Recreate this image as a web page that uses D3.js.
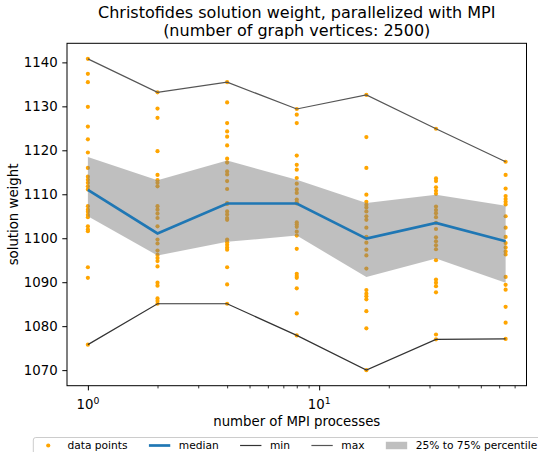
<!DOCTYPE html>
<html>
<head>
<meta charset="utf-8">
<title></title>
<style>
  body { margin: 0; background: #fff; }
  svg { display: block; font-family: "DejaVu Sans", sans-serif; }
</style>
</head>
<body>
<svg id="chart" width="538" height="452"></svg>
<script src="https://d3js.org/d3.v7.min.js"></script>
<script>
// number of MPI processes (x) and the solution weights seen for each run
const procs = [1, 2, 4, 8, 16, 32, 64];

const weights1 = [1140.8, 1137.4, 1135.5, 1129.9, 1125.4, 1122.5, 1119.5, 1116.0, 1114.0, 1113.3,
    1112.6, 1111.8, 1111.1, 1107.3, 1106.5, 1106.0, 1105.3, 1104.8, 1102.7, 1102.0, 1101.6,
    1093.4, 1091.0, 1075.8];
const weights2 = [1133.2, 1129.5, 1127.4, 1119.8, 1114.4, 1113.2, 1112.6, 1111.8, 1107.3, 1106.5,
    1105.6, 1104.6, 1102.7, 1099.7, 1098.8, 1097.2, 1096.2, 1095.5, 1094.8, 1093.6, 1089.9,
    1089.2, 1086.3, 1085.7, 1085.1];
const weights4 = [1135.5, 1130.9, 1126.2, 1124.3, 1123.1, 1121.1, 1118.1, 1117.2, 1115.2, 1114.5,
    1113.0, 1111.2, 1108.0, 1107.8, 1106.1, 1105.4, 1104.6, 1104.2, 1099.7, 1099.1, 1098.5,
    1097.9, 1097.4, 1093.4, 1089.5, 1085.1];
const weights8 = [1129.4, 1128.1, 1126.2, 1118.8, 1116.7, 1115.6, 1113.7, 1112.4, 1111.1, 1110.3,
    1108.8, 1108.2, 1107.9, 1103.6, 1103.1, 1102.6, 1101.5, 1100.6, 1097.6, 1091.9, 1091.4,
    1091.0, 1088.6, 1082.9, 1077.9];
const weights16 = [1132.6, 1123.0, 1116.0, 1109.9, 1108.3, 1107.6, 1107.0, 1106.1, 1105.0, 1104.2,
    1102.4, 1100.3, 1099.0, 1097.4, 1096.1, 1093.1, 1088.2, 1087.4, 1086.8, 1086.1, 1083.4,
    1079.5, 1070.0];
const weights32 = [1124.9, 1113.6, 1113.0, 1111.6, 1110.8, 1110.1, 1107.2, 1106.4, 1105.7, 1104.8,
    1103.5, 1102.1, 1100.2, 1099.3, 1098.4, 1097.5, 1095.0, 1090.6, 1089.9, 1089.1, 1087.7,
    1078.1, 1077.0];
const weights64 = [1117.4, 1114.4, 1111.3, 1109.6, 1108.9, 1108.3, 1107.7, 1105.0, 1102.4, 1100.3,
    1098.9, 1097.9, 1097.0, 1096.3, 1091.2, 1089.4, 1088.3, 1084.4, 1080.8, 1077.1];
const samples = [weights1, weights2, weights4, weights8, weights16, weights32, weights64];

// summary lines
const medianW = [1111.0, 1101.1, 1107.9, 1107.9, 1099.9, 1103.5, 1099.3];
const q25W = [1105.0, 1096.1, 1099.2, 1100.6, 1091.2, 1095.4, 1089.9];
const q75W = [1118.5, 1113.2, 1117.7, 1113.3, 1108.0, 1109.9, 1107.4];
const minW = [1075.8, 1085.1, 1085.1, 1077.9, 1070.0, 1077.0, 1077.1];
const maxW = [1140.8, 1133.2, 1135.5, 1129.4, 1132.6, 1124.9, 1117.4];

const yTicks = [1070, 1080, 1090, 1100, 1110, 1120, 1130, 1140];
const xMajor = [1, 10];
const xMinor = [2, 3, 4, 5, 6, 7, 8, 9, 20, 30, 40, 50, 60, 70];
const legendLabels = ["data points", "median", "min", "max", "25% to 75% percentile"];

const width = 538, height = 452;
const margin = {left: 67, right: 11.5, top: 43.3, bottom: 66.3};
const x0 = margin.left, x1 = width - margin.right;
const y0 = height - margin.bottom, y1 = margin.top;

// matplotlib style 5% margins (log space for x)
const lx = d3.extent(procs).map(Math.log10);
const mx = (lx[1] - lx[0]) * 0.05;
const x = d3.scaleLog()
    .domain([Math.pow(10, lx[0] - mx), Math.pow(10, lx[1] + mx)])
    .range([x0, x1]);
const lo = d3.min(minW), hi = d3.max(maxW);
const my = (hi - lo) * 0.05;
const y = d3.scaleLinear()
    .domain([lo - my, hi + my])
    .range([y0, y1]);

const svg = d3.select("#chart");
const g = svg.append("g");

// scatter of all runs
const dots = procs.flatMap((p, i) => samples[i].map(v => ({p: p, v: v})));
g.append("g")
    .selectAll("circle")
    .data(dots)
    .join("circle")
    .attr("cx", d => x(d.p))
    .attr("cy", d => y(d.v))
    .attr("r", 2.1)
    .attr("fill", "#ffa500");

// interquartile band, drawn over the points
const band = procs.map((p, i) => ({p: p, a: q25W[i], b: q75W[i]}));
g.append("path")
    .datum(band)
    .attr("fill", "gray")
    .attr("fill-opacity", 0.5)
    .attr("d", d3.area().x(d => x(d.p)).y0(d => y(d.a)).y1(d => y(d.b)));

const line = d3.line().x(d => x(d.p)).y(d => y(d.v));
const series = (vals) => procs.map((p, i) => ({p: p, v: vals[i]}));

g.append("path")
    .datum(series(medianW))
    .attr("fill", "none")
    .attr("stroke", "#1f77b4")
    .attr("stroke-width", 2.7)
    .attr("d", line);

g.append("path")
    .datum(series(minW))
    .attr("fill", "none")
    .attr("stroke", "#333")
    .attr("stroke-width", 1.2)
    .attr("d", line);

g.append("path")
    .datum(series(maxW))
    .attr("fill", "none")
    .attr("stroke", "#555")
    .attr("stroke-width", 1.2)
    .attr("d", line);

// axes
const yAxis = svg.append("g")
    .attr("transform", `translate(${x0},0)`)
    .call(d3.axisLeft(y).tickValues(yTicks).tickFormat(d3.format("d")).tickSize(4.7).tickPadding(4.7).tickSizeOuter(0));
yAxis.select(".domain").remove();
yAxis.selectAll("text").attr("font-size", "13.3px").attr("fill", "#000").attr("font-family", "DejaVu Sans");
yAxis.selectAll("line").attr("stroke", "#000").attr("stroke-width", 1);

const xAxis = svg.append("g")
    .attr("transform", `translate(0,${y0})`)
    .call(d3.axisBottom(x).tickValues(xMajor).tickFormat("").tickSize(4.7).tickSizeOuter(0));
xAxis.select(".domain").remove();
xAxis.selectAll("line").attr("stroke", "#000").attr("stroke-width", 1);

const xMinorAxis = svg.append("g")
    .attr("transform", `translate(0,${y0})`)
    .call(d3.axisBottom(x).tickValues(xMinor).tickFormat("").tickSize(2.7).tickSizeOuter(0));
xMinorAxis.select(".domain").remove();
xMinorAxis.selectAll("line").attr("stroke", "#000").attr("stroke-width", 0.8);

// 10^n labels
const xl = svg.append("g");
xMajor.forEach(v => {
    const t = xl.append("text")
        .attr("x", x(v))
        .attr("y", 409)
        .attr("text-anchor", "middle")
        .attr("font-size", "13.3px");
    t.append("tspan").text("10");
    t.append("tspan")
        .attr("font-size", "9.3px")
        .attr("dy", -5.5)
        .text(String(Math.round(Math.log10(v))));
});

// spines
svg.append("rect")
    .attr("x", x0).attr("y", y1)
    .attr("width", x1 - x0).attr("height", y0 - y1)
    .attr("fill", "none")
    .attr("stroke", "#000")
    .attr("stroke-width", 1);

// titles and labels
const cx = (x0 + x1) / 2;
svg.append("text")
    .attr("x", cx).attr("y", 17.5)
    .attr("text-anchor", "middle")
    .attr("font-size", "16px")
    .text("Christofides solution weight, parallelized with MPI");
svg.append("text")
    .attr("x", cx).attr("y", 36)
    .attr("text-anchor", "middle")
    .attr("font-size", "16px")
    .text("(number of graph vertices: 2500)");
svg.append("text")
    .attr("x", cx).attr("y", 426)
    .attr("text-anchor", "middle")
    .attr("font-size", "13.3px")
    .text("number of MPI processes");
svg.append("text")
    .attr("transform", `translate(18,${(y0 + y1) / 2}) rotate(-90)`)
    .attr("text-anchor", "middle")
    .attr("font-size", "13.3px")
    .text("solution weight");

// legend, one row under the axes
const fs = 10.67;
const leg = svg.append("g");
const box = leg.append("rect")
    .attr("x", 33.3).attr("y", 437.5)
    .attr("rx", 2.5)
    .attr("fill", "#fff")
    .attr("fill-opacity", 0.8)
    .attr("stroke", "#ccc")
    .attr("stroke-width", 1);
let lxPos = 33.3 + 0.4 * fs;
const ly = 445.5;
legendLabels.forEach((label, i) => {
    const hs = lxPos, he = lxPos + 2 * fs;
    if (i === 0) {
        leg.append("circle").attr("cx", (hs + he) / 2).attr("cy", ly).attr("r", 2.1).attr("fill", "#ffa500");
    } else if (i === 4) {
        leg.append("rect").attr("x", hs).attr("y", ly - 0.35 * fs).attr("width", he - hs).attr("height", 0.7 * fs)
            .attr("fill", "gray").attr("fill-opacity", 0.5);
    } else {
        leg.append("line").attr("x1", hs).attr("x2", he).attr("y1", ly).attr("y2", ly)
            .attr("stroke", i === 1 ? "#1f77b4" : (i === 2 ? "#333" : "#555"))
            .attr("stroke-width", i === 1 ? 2.7 : 1.2);
    }
    const t = leg.append("text")
        .attr("x", he + 0.8 * fs)
        .attr("y", ly + 3.6)
        .attr("font-size", fs + "px")
        .text(label);
    lxPos = he + 0.8 * fs + t.node().getComputedTextLength() + 2 * fs;
});
box.attr("width", lxPos - 2 * fs + 0.4 * fs - 33.3).attr("height", 30);
</script>
</body>
</html>
